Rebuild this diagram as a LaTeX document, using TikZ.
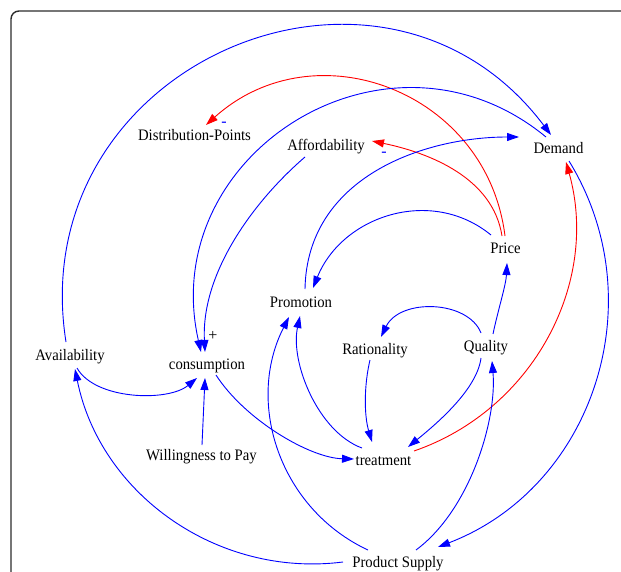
\documentclass[tikz,border=0pt]{standalone}
\usepackage{fontspec}
\setmainfont{Liberation Serif}
\usetikzlibrary{arrows.meta,calc}
\definecolor{bl}{RGB}{0,0,255}
\definecolor{rd}{RGB}{255,0,0}
\definecolor{framec}{RGB}{45,45,45}
\newcommand\nm[1]{\scalebox{0.92}[1]{#1}}
\begin{document}
\begin{tikzpicture}[x=1pt,y=-1pt,
  lbl/.style={font=\fontsize{16}{18}\selectfont, inner sep=0pt, anchor=base, text=black},
  polmark/.style={font=\fontsize{16}{16}\selectfont, inner sep=0pt},
  posarr/.style={bl, line width=0.9pt, -{Triangle[length=12pt,width=8pt]}},
  negarr/.style={rd, line width=0.9pt, -{Triangle[length=12pt,width=8pt]}}]
\useasboundingbox (0,0) rectangle (621,572);
\fill[white] (0,0) rectangle (621,572);
\draw[framec, line width=1.4pt, rounded corners=8pt] (11,660) -- (11,11) -- (700,11);

% nodes
\node[lbl] (dist)    at (194.5,141) {\nm{Distribution-Points}};
\node[lbl] (afford)  at (326,151)   {\nm{Affordability}};
\node[lbl] (demand)  at (558.5,154) {\nm{Demand}};
\node[lbl] (price)   at (505.5,254) {\nm{Price}};
\node[lbl] (promo)   at (301,307)   {\nm{Promotion}};
\node[lbl] (ration)  at (375,354)   {\nm{Rationality}};
\node[lbl] (quality) at (486,351)   {\nm{Quality}};
\node[lbl] (avail)   at (70,360)    {\nm{Availability}};
\node[lbl] (cons)    at (207,369)   {\nm{consumption}};
\node[lbl] (will)    at (201.5,460) {\nm{Willingness to Pay}};
\node[lbl] (treat)   at (383.5,465) {\nm{treatment}};
\node[lbl] (supply)  at (398,567.5) {\nm{Product Supply}};

% polarity marks
\node[polmark, text=bl] (m1) at (224,124) {-};
\node[polmark, text=bl] (m2) at (384,154) {-};
\node[polmark, text=black] (p1) at (213,336) {+};

% connectors
\draw[posarr] ($(avail.base)+(-4,-18)$) .. controls (22,64) and (382,-89.5) .. ($(demand.base)+(-7.5,-19)$);
\draw[negarr] ($(price.base)+(-0.5,-18)$) .. controls (487,91) and (315,27) .. ($(dist.base)+(11.5,-16)$);
\draw[posarr] ($(demand.base)+(-12.5,-17)$) .. controls (388,7) and (156,153.5) .. ($(cons.base)+(-6,-17)$);
\draw[posarr] ($(afford.base)+(-21,6)$) .. controls (255,200) and (201,272) .. ($(cons.base)+(-2,-17)$);
\draw[negarr] ($(price.base)+(-3.5,-18)$) .. controls (493,178) and (430,153) .. ($(afford.base)+(46,-10)$);
\draw[posarr] ($(promo.base)+(4,-18)$) .. controls (307,177) and (424,137) .. ($(demand.base)+(-39.5,-17)$);
\draw[posarr] ($(price.base)+(-14.5,-19)$) .. controls (431,186) and (342,216) .. ($(promo.base)+(12,-19)$);
\draw[posarr] ($(quality.base)+(7,-17)$) .. controls (498,310) and (506,285) .. ($(price.base)+(1.5,9)$);
\draw[posarr] ($(quality.base)+(-5,-18)$) .. controls (468,300) and (400,298) .. ($(ration.base)+(6,-17)$);
\draw[posarr] ($(ration.base)+(-5,6)$) .. controls (364,385) and (364,415) .. ($(treat.base)+(-11.5,-23)$);
\draw[posarr] ($(quality.base)+(-5,7)$) .. controls (477,390) and (435,425) .. ($(treat.base)+(24.5,-18)$);
\draw[negarr] ($(treat.base)+(30.5,-14)$) .. controls (533,410) and (600,283) .. ($(demand.base)+(7.5,8)$);
\draw[posarr] ($(cons.base)+(9,6)$) .. controls (245,420) and (310,458) .. ($(treat.base)+(-29.5,-6)$);
\draw[posarr] ($(avail.base)+(7,8)$) .. controls (95,400) and (168,402) .. ($(cons.base)+(-10,9)$);
\draw[posarr] ($(will.base)+(0.5,-15)$) -- ($(cons.base)+(-2,9)$);
\draw[posarr] ($(supply.base)+(-55,-5.5)$) .. controls (217,578) and (100,493.5) .. ($(avail.base)+(5,9)$);
\draw[posarr] ($(supply.base)+(-30,-17.5)$) .. controls (280,509) and (245,403) .. ($(promo.base)+(-12,10)$);
\draw[posarr] ($(treat.base)+(-21.5,-17)$) .. controls (318,432) and (290,362) .. ($(promo.base)+(-1,9)$);
\draw[posarr] ($(supply.base)+(18,-17.5)$) .. controls (470,510) and (497,420) .. ($(quality.base)+(6,10)$);
\draw[posarr] ($(demand.base)+(10.5,7)$) .. controls (655.5,302) and (592.5,487.7) .. ($(supply.base)+(40,-20.5)$);
\end{tikzpicture}
\end{document}
